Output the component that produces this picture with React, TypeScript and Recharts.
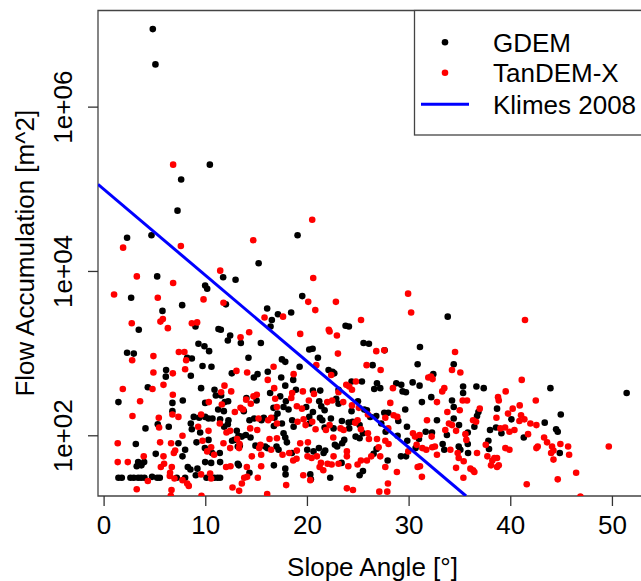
import { ScatterChart, Scatter, XAxis, YAxis, ReferenceArea, Label } from 'recharts';

// slope angle [deg], log10 of flow accumulation [m^2]
const gdemPoints: [number, number][] = [
  [4.79, 6.95], [5.05, 6.52], [10.4, 5.3], [7.58, 5.12], [7.22, 4.74], [2.26, 4.41], [4.66, 4.44], [15.2, 4.1],
  [11.71, 3.93], [12.93, 3.9], [5.22, 3.94], [9.94, 3.83], [10.14, 3.79], [2.66, 3.68], [7.68, 3.59], [11.98, 3.6],
  [5.74, 3.52], [16.04, 3.55], [17.1, 3.48], [16.5, 3.41], [8.99, 3.33], [3.41, 3.29], [11.25, 3.3], [16.37, 3.33],
  [19.03, 4.44], [19.49, 3.7], [33.8, 3.45], [18.4, 3.5], [23.75, 3.34], [24.08, 3.33], [51.4, 2.52],
  [11.48, 3.29], [12.4, 3.22], [12.17, 3.16], [13.45, 3.13], [15.42, 3.13], [9.28, 3.12], [9.87, 3.09], [10.33, 3.03],
  [2.26, 3.01], [2.92, 3.0], [8.17, 2.95], [8.63, 2.94], [14.2, 2.95], [9.68, 2.85], [10.56, 2.84], [6.1, 2.8],
  [6.07, 2.72], [8.53, 2.73], [12.56, 2.76], [14.73, 2.71], [15.09, 2.75], [16.1, 2.78], [4.3, 2.59], [1.41, 2.41],
  [6.72, 2.4], [7.74, 2.43], [6.72, 2.3], [9.54, 2.58], [10.86, 2.56], [10.99, 2.49], [11.51, 2.49], [11.87, 2.41],
  [12.2, 2.42], [9.94, 2.4], [11.22, 2.32], [11.78, 2.3], [14.0, 2.46], [13.74, 2.3], [15.0, 2.43], [16.33, 2.52],
  [16.66, 2.34], [8.82, 2.23], [9.35, 2.22], [9.94, 2.23], [10.27, 2.21], [10.66, 2.21], [11.41, 2.2], [12.23, 2.19],
  [5.28, 2.14], [6.36, 2.11], [8.53, 2.15], [8.63, 2.08], [11.81, 2.11], [12.17, 2.14], [13.05, 2.06], [13.22, 2.0],
  [13.55, 1.99], [13.94, 2.01], [14.4, 1.98], [14.3, 2.19], [14.76, 2.21], [15.48, 2.19], [15.71, 2.22], [16.76, 2.22],
  [16.7, 2.12], [4.07, 2.09], [9.45, 2.04], [3.12, 1.9], [7.31, 1.91], [7.97, 1.83], [9.09, 1.92], [10.27, 1.95],
  [9.91, 1.85], [10.63, 1.79], [11.38, 1.79], [13.15, 1.87], [13.35, 1.88], [12.59, 1.94], [12.82, 1.95], [14.89, 1.88],
  [15.84, 1.87], [16.04, 1.85], [16.96, 1.87], [3.35, 1.68], [3.21, 1.63], [3.67, 1.64], [3.94, 1.68], [5.08, 1.78],
  [7.71, 1.75], [8.23, 1.62], [8.49, 1.59], [9.18, 1.6], [9.02, 1.52], [9.94, 1.68], [10.53, 1.67], [11.41, 1.68],
  [13.15, 1.66], [13.25, 1.64], [14.3, 1.55], [16.7, 1.64],
  [1.41, 1.49], [1.74, 1.49], [2.59, 1.49], [2.92, 1.49], [3.35, 1.49], [3.64, 1.49], [3.97, 1.49], [4.72, 1.5],
  [5.22, 1.49], [5.48, 1.49], [7.15, 1.49], [7.97, 1.49], [10.07, 1.49], [10.82, 1.49], [11.15, 1.49], [11.41, 1.49],
  [25.52, 3.13], [26.05, 3.12], [27.59, 3.04], [31.07, 3.08], [20.18, 3.05], [20.51, 3.06], [21.03, 2.95], [17.49, 2.93],
  [17.82, 2.9], [19.23, 2.84], [22.08, 2.8], [22.47, 2.78], [22.64, 2.76], [26.41, 2.86], [30.84, 2.87], [32.38, 2.75],
  [17.42, 2.71], [18.6, 2.68], [17.82, 2.61], [18.87, 2.56], [20.54, 2.55], [21.26, 2.55], [23.06, 2.56], [24.34, 2.66],
  [25.36, 2.66], [26.84, 2.64], [27.16, 2.58], [26.57, 2.57], [28.74, 2.64], [29.23, 2.62], [29.36, 2.54], [29.69, 2.53],
  [30.35, 2.65], [31.03, 2.61], [31.26, 2.41], [32.18, 2.47], [17.32, 2.48], [17.88, 2.42], [18.14, 2.32], [17.65, 2.35],
  [19.88, 2.35], [21.16, 2.42], [21.36, 2.36], [21.69, 2.31], [22.83, 2.45], [23.06, 2.39], [24.97, 2.42], [24.34, 2.3],
  [25.59, 2.32], [25.85, 2.31], [26.18, 2.23], [26.77, 2.24], [27.56, 2.28], [27.95, 2.28], [28.94, 2.18], [29.62, 2.32],
  [32.74, 2.19], [33.72, 2.01], [32.25, 2.04], [31.63, 2.05], [29.79, 2.11], [28.87, 2.0], [29.82, 1.94], [30.97, 1.96],
  [33.3, 1.9], [33.46, 1.83], [29.7, 1.75], [29.2, 1.75], [30.64, 1.85], [17.06, 2.27], [17.49, 2.15], [18.5, 2.19],
  [18.64, 2.11], [20.18, 2.23], [20.21, 2.15], [20.54, 2.29], [21.23, 2.22], [21.46, 2.19], [21.69, 2.1], [22.31, 2.21],
  [22.57, 2.09], [23.39, 2.18], [24.11, 2.09], [24.05, 2.16], [24.44, 2.17], [25.13, 2.13], [25.46, 2.03], [24.74, 1.99],
  [25.13, 1.97], [27.26, 2.15], [27.69, 2.05], [17.65, 2.03], [17.82, 1.98], [17.98, 1.92], [17.82, 1.6], [17.85, 1.53],
  [20.28, 1.53], [20.34, 1.47], [19.98, 1.83], [20.6, 1.81], [21.13, 1.85], [21.59, 1.79], [21.75, 1.82], [23.36, 1.67],
  [22.24, 1.49], [22.7, 1.89], [22.93, 1.87], [23.42, 1.91], [23.62, 1.95], [26.51, 1.78], [26.8, 1.84], [27.89, 1.7],
  [25.13, 1.52], [25.46, 1.57], [18.47, 1.79], [17.16, 1.83],
  [34.39, 2.87], [43.9, 2.58], [35.31, 2.6], [35.31, 2.52], [36.62, 2.6], [37.34, 2.58], [34.22, 2.43], [34.39, 2.35],
  [38.65, 2.33], [36.82, 2.29], [36.68, 2.24], [34.39, 2.21], [34.91, 2.13], [35.77, 2.04], [36.42, 2.11], [40.06, 2.2],
  [43.34, 2.16], [44.92, 2.26], [44.46, 2.08], [44.62, 2.05], [39.08, 2.03], [37.96, 2.07], [38.55, 2.1], [41.28, 1.98],
  [35.77, 1.9], [34.88, 1.87], [35.04, 1.83], [35.8, 1.79], [37.8, 1.94], [37.86, 1.84], [44.82, 1.79],
];

const tandemPoints: [number, number][] = [
  [6.79, 5.3], [1.87, 4.29], [7.55, 4.31], [14.67, 4.38], [11.42, 4.01], [3.22, 3.94], [6.79, 3.86], [0.98, 3.72],
  [5.28, 3.68], [9.78, 3.66], [11.74, 3.62], [15.78, 3.44], [2.72, 3.37], [5.54, 3.39], [5.78, 3.42], [6.27, 3.31],
  [8.63, 3.37], [9.15, 3.38], [20.47, 4.63], [20.57, 3.92], [20.08, 3.63], [22.8, 3.63], [20.77, 3.53], [29.9, 3.73],
  [30.2, 3.5], [17.6, 3.45], [25.27, 3.41], [22.1, 3.29], [41.4, 3.41],
  [13.42, 3.2], [14.27, 3.26], [2.76, 2.92], [4.85, 2.97], [7.35, 3.02], [7.9, 3.02], [8.07, 2.92], [4.85, 2.77],
  [6.76, 2.76], [7.97, 2.81], [13.02, 2.79], [14.07, 2.77], [16.1, 2.68], [1.84, 2.57], [4.76, 2.57], [5.84, 2.62],
  [3.54, 2.42], [6.76, 2.5], [6.72, 2.26], [7.31, 2.23], [2.79, 2.24], [11.84, 2.61], [11.51, 2.53], [12.5, 2.54],
  [10.3, 2.41], [11.58, 2.38], [12.86, 2.29], [13.42, 2.34], [13.68, 2.32], [13.97, 2.44], [14.43, 2.39], [14.69, 2.48],
  [15.02, 2.5], [16.83, 2.45], [16.99, 2.35], [9.54, 2.26], [5.38, 2.22], [5.41, 2.1], [9.25, 2.11], [11.38, 2.15],
  [12.4, 2.06], [12.04, 2.04], [14.37, 2.09], [15.19, 2.21], [15.06, 2.07], [16.14, 2.19], [16.43, 2.22], [7.71, 2.0],
  [10.27, 2.06], [1.34, 1.91], [5.51, 1.92], [6.59, 1.91], [6.99, 1.82], [6.86, 1.79], [9.68, 1.94], [10.53, 1.86],
  [10.14, 1.81], [10.82, 1.77], [11.74, 1.91], [12.4, 1.85], [13.28, 1.85], [13.32, 1.9], [13.09, 1.96], [15.38, 1.89],
  [15.25, 1.85], [16.27, 1.96], [16.43, 1.83], [15.45, 1.77], [3.9, 1.75], [1.34, 1.68], [2.33, 1.68], [5.58, 1.62],
  [5.84, 1.75], [5.9, 1.66], [6.66, 1.62], [10.43, 1.54], [9.54, 1.53], [12.0, 1.62], [12.43, 1.63], [14.53, 1.75],
  [15.45, 1.63], [14.04, 1.62], [4.3, 1.45], [6.49, 1.55], [6.46, 1.51], [6.92, 1.48], [7.71, 1.46], [8.33, 1.39],
  [8.17, 1.42], [10.53, 1.48], [13.78, 1.49], [14.07, 1.5], [15.12, 1.49], [13.55, 1.42], [13.28, 1.33], [12.63, 1.37],
  [3.21, 1.35], [6.63, 1.34], [6.56, 1.27], [9.58, 1.27], [16.04, 1.29], [16.67, 2.84], [16.73, 2.58],
  [19.29, 3.24], [22.18, 3.27], [22.9, 3.22], [26.77, 3.03], [27.56, 3.04], [23.0, 3.0], [20.87, 2.86], [22.34, 2.74],
  [25.82, 2.86], [27.2, 2.8], [32.15, 2.72], [31.89, 2.71], [32.31, 2.69], [18.64, 2.75], [18.5, 2.52], [19.55, 2.54],
  [20.64, 2.51], [23.06, 2.53], [24.11, 2.6], [24.77, 2.66], [23.82, 2.62], [24.38, 2.56], [28.41, 2.58], [33.46, 2.58],
  [33.26, 2.54], [32.74, 2.41], [33.76, 2.29], [33.92, 2.15], [33.56, 2.07], [18.41, 2.46], [18.96, 2.36], [19.46, 2.33],
  [20.14, 2.43], [21.95, 2.41], [22.44, 2.43], [23.52, 2.41], [24.38, 2.37], [25.06, 2.34], [25.95, 2.26], [27.66, 2.22],
  [28.15, 2.4], [28.48, 2.25], [28.84, 2.23], [31.76, 2.19], [32.22, 1.99], [30.38, 2.03], [30.58, 1.99], [31.03, 2.01],
  [30.74, 1.89], [31.3, 1.85], [31.69, 1.83], [32.28, 1.86], [32.54, 1.87], [32.74, 1.77], [29.92, 1.81], [17.0, 2.15],
  [19.03, 2.17], [19.62, 2.2], [19.82, 2.13], [20.47, 2.17], [20.8, 2.08], [21.82, 2.07], [22.18, 2.13], [23.26, 2.09],
  [23.56, 2.07], [24.7, 2.16], [24.93, 2.19], [25.26, 2.08], [25.95, 2.03], [26.05, 1.96], [26.84, 1.96], [27.0, 1.86],
  [27.66, 1.94], [27.95, 2.09], [27.98, 1.9], [17.0, 1.97], [17.55, 1.77], [18.21, 1.79], [18.6, 1.7], [18.93, 1.72],
  [17.91, 1.4], [19.59, 1.52], [20.28, 1.46], [20.01, 1.75], [20.41, 1.73], [20.93, 1.75], [21.33, 1.67], [21.2, 1.62],
  [21.56, 1.58], [21.98, 1.66], [22.38, 1.65], [22.57, 1.75], [23.06, 1.66], [22.54, 1.98], [23.88, 1.81], [23.88, 1.75],
  [24.02, 1.63], [24.93, 1.65], [25.26, 1.7], [25.85, 1.7], [26.28, 1.75], [27.16, 1.75], [27.66, 1.62], [23.88, 1.36],
  [24.48, 1.34], [27.07, 1.32], [27.85, 1.32], [27.92, 1.42], [28.8, 1.56], [31.26, 1.5], [31.07, 1.63], [30.84, 1.62],
  [19.29, 1.91], [20.05, 1.92], [18.96, 1.82],
  [34.52, 3.02], [34.22, 2.8], [35.04, 2.77], [41.08, 2.68], [39.5, 2.54], [35.27, 2.43], [35.7, 2.43], [34.98, 2.31],
  [38.75, 2.47], [38.82, 2.43], [42.46, 2.43], [40.88, 2.37], [40.19, 2.33], [39.73, 2.27], [41.01, 2.25], [38.59, 2.22],
  [36.95, 2.33], [36.29, 2.19], [36.59, 2.17], [34.22, 2.13], [34.62, 2.06], [40.85, 2.18], [41.34, 2.2], [41.93, 2.15],
  [42.52, 2.13], [38.98, 2.09], [39.44, 2.1], [39.87, 2.05], [40.36, 2.07], [41.7, 2.02], [35.54, 2.02], [35.63, 1.95],
  [34.06, 1.83], [34.78, 1.79], [34.88, 1.73], [36.68, 1.79], [37.54, 1.89], [43.28, 1.98], [43.57, 1.92], [44.06, 1.87],
  [44.2, 1.82], [43.97, 1.79], [44.88, 1.9], [45.64, 1.87], [45.74, 1.77], [42.65, 1.87], [42.52, 1.85], [39.47, 1.85],
  [39.87, 1.83], [37.7, 1.75], [38.39, 1.73], [38.65, 1.73], [38.19, 1.7], [38.06, 1.64], [38.65, 1.62], [38.82, 1.64],
  [34.62, 1.61], [36.03, 1.6], [36.29, 1.58], [36.42, 1.56], [35.37, 1.69], [35.34, 1.49], [44.2, 1.71], [46.43, 1.55],
  [49.64, 1.87], [44.62, 1.47], [41.57, 1.41], [46.85, 1.26],
];

// Klimes 2008 threshold line, end points
const klimesSlope = [-0.6, 35.6];
const klimesLogFlow = [5.06, 1.267];

const slopeTicks = [0, 10, 20, 30, 40, 50];
const flowTicks = [1e2, 1e4, 1e6];
const slopeDomain: [number, number] = [-0.6, 53.4];
const flowDomain: [number, number] = [18.5, 1.5e7];

const FONT = '"Liberation Sans", Arial, Helvetica, sans-serif';

const toRows = (pts: [number, number][]) => pts.map(([slope, e]) => ({ slope, flow: Math.pow(10, e) }));
const gdemData = toRows(gdemPoints);
const tandemData = toRows(tandemPoints);
const klimesData = klimesSlope.map((s, i) => ({ slope: s, flow: Math.pow(10, klimesLogFlow[i]) }));

const dot = (color: string) => (props: any) => (
  <circle cx={props.cx} cy={props.cy} r={3.3} fill={color} />
);

function XTick({ x, y, payload }: any) {
  return (
    <text x={x} y={y + 27.5} textAnchor="middle" fontFamily={FONT} fontSize={26} fill="#000">
      {payload.value}
    </text>
  );
}

function YTick({ x, y, payload }: any) {
  const exp = Math.round(Math.log10(payload.value));
  const tx = x - 16;
  return (
    <text x={tx} y={y} transform={`rotate(-90 ${tx} ${y})`} textAnchor="middle" fontFamily={FONT} fontSize={26} fill="#000">
      {`1e+${String(exp).padStart(2, '0')}`}
    </text>
  );
}

function LegendBox() {
  const rows = [
    { label: 'GDEM', kind: 'dot', color: '#000000', y: 42.3 },
    { label: 'TanDEM-X', kind: 'dot', color: '#ff0000', y: 72.7 },
    { label: 'Klimes 2008', kind: 'line', color: '#0000ff', y: 104.3 },
  ];
  return (
    <svg width={641} height={581} style={{ position: 'absolute', left: 0, top: 0, pointerEvents: 'none' }}>
      <rect x={414.5} y={10.5} width={250} height={124.5} fill="#fff" stroke="#444" strokeWidth={1.3} />
      {rows.map((r) => (
        <g key={r.label}>
          {r.kind === 'dot' ? (
            <circle cx={445} cy={r.y} r={3.3} fill={r.color} />
          ) : (
            <line x1={421} x2={469} y1={r.y} y2={r.y} stroke={r.color} strokeWidth={3} />
          )}
          <text x={493} y={r.y + 9.3} fontFamily={FONT} fontSize={26} fill="#000">
            {r.label}
          </text>
        </g>
      ))}
    </svg>
  );
}

export default function App() {
  return (
    <div style={{ position: 'absolute', left: 0, top: 0, width: 641, height: 581, overflow: 'hidden', background: '#fff' }}>
      <ScatterChart width={650} height={581} margin={{ top: 10.5, right: 3, bottom: 0, left: 0 }}>
        <XAxis
          type="number"
          dataKey="slope"
          domain={slopeDomain}
          allowDataOverflow
          ticks={slopeTicks}
          tick={<XTick />}
          tickSize={10}
          tickMargin={0}
          tickLine={{ stroke: '#333', strokeWidth: 1.3 }}
          axisLine={false}
          height={85}
        >
          <Label
            content={(props: any) => {
              const vb = props.viewBox || { x: 98, y: 496, width: 549 };
              return (
                <text x={vb.x + vb.width / 2} y={vb.y + 80} textAnchor="middle" fontFamily={FONT} fontSize={26} fill="#000">
                  Slope Angle [°]
                </text>
              );
            }}
          />
        </XAxis>
        <YAxis
          type="number"
          dataKey="flow"
          scale="log"
          domain={flowDomain}
          allowDataOverflow
          ticks={flowTicks}
          tick={<YTick />}
          tickSize={10}
          tickMargin={0}
          tickLine={{ stroke: '#333', strokeWidth: 1.3 }}
          axisLine={false}
          width={98}
        >
          <Label
            content={(props: any) => {
              const vb = props.viewBox || { x: 0, y: 10.5, height: 485.5 };
              const cy = vb.y + vb.height / 2;
              return (
                <text x={33.6} y={cy} transform={`rotate(-90 33.6 ${cy})`} textAnchor="middle" fontFamily={FONT} fontSize={26} fill="#000">
                  Flow Accumulation [m^2]
                </text>
              );
            }}
          />
        </YAxis>
        <ReferenceArea
          x1={slopeDomain[0]}
          x2={slopeDomain[1]}
          y1={flowDomain[0]}
          y2={flowDomain[1]}
          fill="none"
          stroke="#444"
          strokeWidth={1.3}
          ifOverflow="visible"
        />
        <Scatter name="GDEM" data={gdemData} shape={dot('#000000')} isAnimationActive={false} />
        <Scatter name="TanDEM-X" data={tandemData} shape={dot('#ff0000')} isAnimationActive={false} />
        <Scatter
          name="Klimes 2008"
          data={klimesData}
          line={{ stroke: '#0000ff', strokeWidth: 3 }}
          shape={() => null}
          isAnimationActive={false}
        />
      </ScatterChart>
      <LegendBox />
    </div>
  );
}
